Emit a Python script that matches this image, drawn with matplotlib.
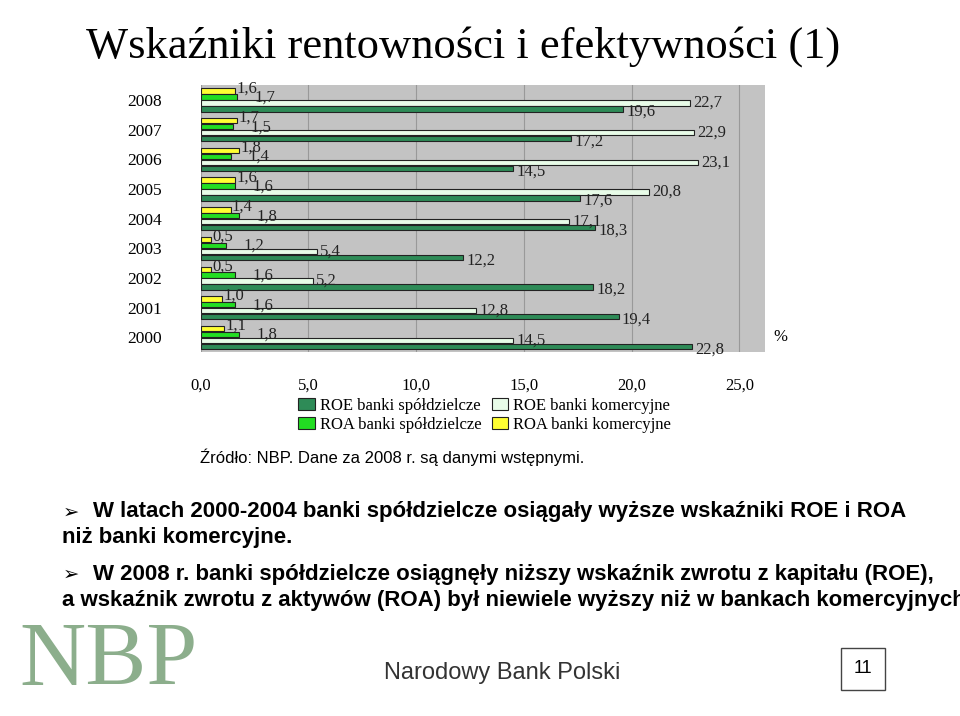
import matplotlib
matplotlib.use("Agg")
import matplotlib.pyplot as plt
import numpy as np

years = ["2008","2007","2006","2005","2004","2003","2002","2001","2000"]
roa_kom = [1.6,1.7,1.8,1.6,1.4,0.5,0.5,1.0,1.1]
roa_sp = [1.7,1.5,1.4,1.6,1.8,1.2,1.6,1.6,1.8]
roe_kom = [22.7,22.9,23.1,20.8,17.1,5.4,5.2,12.8,14.5]
roe_sp = [19.6,17.2,14.5,17.6,18.3,12.2,18.2,19.4,22.8]
xticks = [0,5,10,15,20,25]

def fmt(v):
    return f"{v:.1f}".replace(".", ",")

fig = plt.figure(figsize=(9.6,7.16), dpi=100)
fig.patch.set_facecolor("white")
fig.text(0.09,0.935,"Wskaźniki rentowności i efektywności (1)",fontsize=32,family="Liberation Serif",va="center")

ax = fig.add_axes([0.209,0.508,0.588,0.373])
ax.set_facecolor("#c3c3c3")
n = len(years)
ypos = np.arange(n)[::-1]
h = 0.2
series = [(roa_kom,"#ffff33","ROA banki komercyjne"),(roa_sp,"#22dd22","ROA banki spółdzielcze"),
          (roe_kom,"#e8fce8","ROE banki komercyjne"),(roe_sp,"#2e8b57","ROE banki spółdzielcze")]
offs = [0.3,0.1,-0.1,-0.3]
lab_dx = [0.05,0.8,0.15,0.15]
lab_dy = [0.1,-0.02,0.0,-0.1]
for i,((vals,c,lab),o) in enumerate(zip(series,offs)):
    ax.barh(ypos+o,vals,height=h*0.9,color=c,edgecolor="#222222",linewidth=0.8,label=lab,zorder=3)
    for y,v in zip(ypos,vals):
        ax.text(v+lab_dx[i],y+o+lab_dy[i],fmt(v),fontsize=12,family="Liberation Serif",va="center",color="#222",zorder=4)
ax.set_xlim(0,26.2)
ax.set_ylim(-0.5,n-0.5)
ax.set_xticks(xticks)
ax.set_xticklabels([fmt(v) for v in xticks],family="Liberation Serif",fontsize=12)
ax.set_yticks(ypos)
ax.set_yticklabels(years,family="Liberation Serif",fontsize=12.5)
ax.tick_params(axis="x",length=0,pad=18)
ax.tick_params(axis="y",length=0,pad=28)
ax.xaxis.grid(True,color="#999999",linewidth=0.8,zorder=0)
for s in ax.spines.values():
    s.set_visible(False)
ax.text(26.6,0,"%",fontsize=12,family="Liberation Serif",va="center",clip_on=False)

handles,labels = ax.get_legend_handles_labels()
order=[3,1,2,0]
fig.legend([handles[i] for i in order],[labels[i] for i in order],ncol=2,loc="center",
           bbox_to_anchor=(0.505,0.42),frameon=False,prop={"family":"Liberation Serif","size":12},
           handlelength=1.0,handleheight=0.7,columnspacing=0.6,handletextpad=0.3,labelspacing=0.15)
fig.text(0.208,0.362,"Źródło: NBP. Dane za 2008 r. są danymi wstępnymi.",fontsize=12,family="Liberation Sans",va="center")

bf = dict(fontsize=16,family="Liberation Sans",weight="bold",va="center")
fig.text(0.065,0.285,"➢",fontsize=14,family="DejaVu Sans",va="center")
fig.text(0.097,0.285,"W latach 2000-2004 banki spółdzielcze osiągały wyższe wskaźniki ROE i ROA",**bf)
fig.text(0.065,0.249,"niż banki komercyjne.",**bf)
fig.text(0.065,0.198,"➢",fontsize=14,family="DejaVu Sans",va="center")
fig.text(0.097,0.198,"W 2008 r. banki spółdzielcze osiągnęły niższy wskaźnik zwrotu z kapitału (ROE),",**bf)
fig.text(0.065,0.162,"a wskaźnik zwrotu z aktywów (ROA) był niewiele wyższy niż w bankach komercyjnych.",**bf)

fig.text(0.02,0.075,"NBP",fontsize=66,family="Liberation Serif",color="#6f9a6f",va="center",alpha=0.8)
fig.text(0.40,0.06,"Narodowy Bank Polski",fontsize=17,family="Liberation Sans",color="#333",va="center")
fig.text(0.899,0.066,"11",fontsize=13,family="Liberation Sans",va="center",ha="center",
         bbox=dict(boxstyle="square,pad=0.7",fc="white",ec="#444"))
fig.savefig("out.png",dpi=100)
